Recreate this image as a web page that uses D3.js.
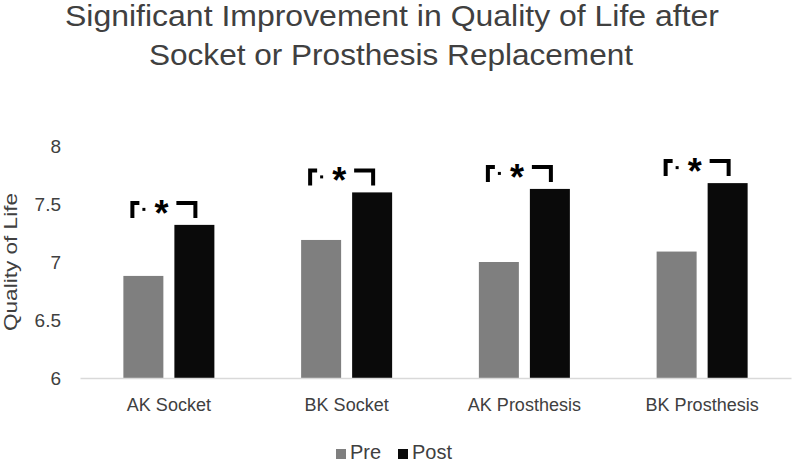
<!DOCTYPE html>
<html>
<head>
<meta charset="utf-8">
<script src="https://cdn.jsdelivr.net/npm/d3@7"></script>
<style>
  body { margin: 0; background: #fff; }
  text { font-family: "Liberation Sans", Arial, sans-serif; fill: #404040; }
</style>
</head>
<body>
<script>
const categories = ["AK Socket", "BK Socket", "AK Prosthesis", "BK Prosthesis"];
const series = ["Pre", "Post"];
const preValues = [6.88, 7.19, 7.00, 7.09];
const postValues = [7.32, 7.60, 7.63, 7.68];
const yTicks = [6, 6.5, 7, 7.5, 8];
const colors = { Pre: "#7f7f7f", Post: "#0a0a0a" };

const w = 794, h = 462;
const svg = d3.select("body").append("svg").attr("width", w).attr("height", h);

// title
svg.append("text").attr("x", 392).attr("y", 26)
  .attr("text-anchor", "middle").attr("font-size", "29.5px")
  .attr("textLength", 654).attr("lengthAdjust", "spacingAndGlyphs")
  .text("Significant Improvement in Quality of Life after");
svg.append("text").attr("x", 391).attr("y", 65)
  .attr("text-anchor", "middle").attr("font-size", "29.5px")
  .attr("textLength", 484).attr("lengthAdjust", "spacingAndGlyphs")
  .text("Socket or Prosthesis Replacement");

const x0 = d3.scaleBand().domain(categories).range([80, 791])
  .paddingInner(0.488).paddingOuter(0.244);
const x1 = d3.scaleBand().domain(series).range([0, x0.bandwidth()]).paddingInner(0.216);
const y = d3.scaleLinear().domain([6, 8]).range([378, 146]);

const rows = categories.map((c, i) => ({ cat: c, Pre: preValues[i], Post: postValues[i] }));

// y axis labels (no line, no ticks)
const yAxis = d3.axisLeft(y).tickValues(yTicks).tickSize(0).tickPadding(19)
  .tickFormat(d3.format("~g"));
svg.append("g").attr("transform", "translate(80,0)").call(yAxis)
  .call(g => g.select(".domain").remove())
  .call(g => g.selectAll("text").attr("font-size", "19px")
    .attr("font-family", null).attr("fill", "#404040"));

// bars
const groups = svg.append("g").selectAll("g").data(rows).enter().append("g")
  .attr("transform", d => "translate(" + x0(d.cat) + ",0)");
groups.selectAll("rect")
  .data(d => series.map(s => ({ key: s, value: d[s] })))
  .enter().append("rect")
  .attr("x", d => x1(d.key))
  .attr("y", d => y(d.value))
  .attr("width", x1.bandwidth())
  .attr("height", d => y(6) - y(d.value))
  .attr("fill", d => colors[d.key]);

// x axis line + category labels
const xAxis = d3.axisBottom(x0).tickSize(0).tickPadding(20);
svg.append("g").attr("transform", "translate(0," + y(6) + ")").call(xAxis)
  .call(g => g.select(".domain").attr("stroke", "#d9d9d9").attr("stroke-width", 1.5))
  .call(g => g.selectAll("text").attr("font-size", "18px")
    .attr("font-family", null).attr("fill", "#404040"));

// significance brackets
const sig = svg.append("g");
rows.forEach(d => {
  const pL = x0(d.cat) + x1("Post");
  const yb = y(d.Post) - 7, yt = yb - 17;
  sig.append("path")
    .attr("d", "M" + (pL - 42) + "," + yb + "V" + (yt + 2) + "H" + (pL - 35))
    .attr("fill", "none").attr("stroke", "#000").attr("stroke-width", 4);
  sig.append("path")
    .attr("d", "M" + (pL + 2) + "," + (yt + 2) + "H" + (pL + 21) + "V" + yb)
    .attr("fill", "none").attr("stroke", "#000").attr("stroke-width", 4);
  sig.append("rect").attr("x", pL - 32).attr("y", yt + 7).attr("width", 3).attr("height", 3)
    .attr("fill", "#000");
  sig.append("text").attr("x", pL - 13).attr("y", yt + 25)
    .attr("text-anchor", "middle").attr("font-size", "36px").attr("font-weight", "bold")
    .style("fill", "#000").text("*");
});

// y axis title
svg.append("text").attr("transform", "translate(17,262) rotate(-90)")
  .attr("text-anchor", "middle").attr("font-size", "19px")
  .attr("textLength", 138).attr("lengthAdjust", "spacingAndGlyphs")
  .text("Quality of Life");

// legend
const legend = svg.append("g").attr("transform", "translate(336,459)");
const items = legend.selectAll("g").data(series).enter().append("g")
  .attr("transform", (d, i) => "translate(" + (i * 62) + ",0)");
items.append("rect").attr("x", 0).attr("y", -10).attr("width", 10).attr("height", 10)
  .attr("fill", d => colors[d]);
items.append("text").attr("x", 14).attr("y", 0).attr("font-size", "20px").text(d => d);
</script>
</body>
</html>
